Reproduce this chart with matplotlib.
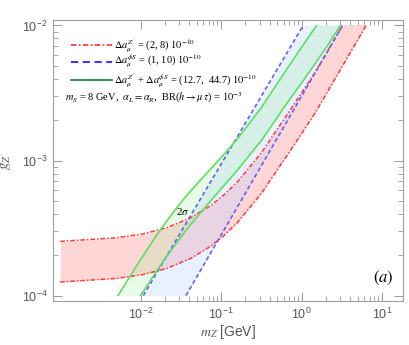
import matplotlib
matplotlib.use("Agg")
import matplotlib.pyplot as plt
from matplotlib.lines import Line2D
from matplotlib.patches import Rectangle
from matplotlib.ticker import FixedLocator, NullFormatter

plt.rcParams['font.family'] = ['Liberation Sans', 'DejaVu Sans']
plt.rcParams['mathtext.fontset'] = 'stix'

# red band: Delta a_mu^{Z'} = (2, 8) 1e-10
red_m = [1e-3, 5e-3, 0.0106, 0.0211, 0.0423, 0.074, 0.106, 0.159, 0.317, 0.7, 1.46, 6.66, 8.0]
red_lo = [1.26e-4, 1.34e-4, 1.43e-4, 1.59e-4, 1.89e-4, 2.32e-4, 2.75e-4, 3.47e-4,
          5.72e-4, 1.15e-3, 2.23e-3, 1.05e-2, 1.26e-2]
red_hi = [2.52e-4, 2.68e-4, 2.86e-4, 3.18e-4, 3.78e-4, 4.64e-4, 5.50e-4, 6.94e-4,
          1.144e-3, 2.30e-3, 4.46e-3, 2.10e-2, 2.52e-2]

# blue band: Delta a_mu^{phi S} = (1, 10) 1e-10  (g on the vertical axis)
blue_g = [1e-4, 1e-3, 1e-2]
blue_left = [0.01077, 0.1062, 1.047]
blue_right = [0.0365, 0.344, 3.23]

# green band: sum = (12.7, 44.7) 1e-10
green_m = [0.005, 0.0075, 0.01, 0.015, 0.02, 0.03, 0.04, 0.06, 0.08, 0.12, 0.16,
           0.24, 0.32, 0.48, 0.64, 1.0, 1.5, 2.2, 3.0, 4.0]
green_hi = [9.6e-5, 1.41e-4, 1.85e-4, 2.68e-4, 3.42e-4, 4.71e-4, 5.79e-4, 7.56e-4,
            9.1e-4, 1.19e-3, 1.45e-3, 1.99e-3, 2.49e-3, 3.6e-3, 4.65e-3, 6.9e-3,
            9.8e-3, 1.38e-2, 1.85e-2, 2.4e-2]
green_lo = [5.1e-5, 7.8e-5, 1.0e-4, 1.45e-4, 1.87e-4, 2.6e-4, 3.25e-4, 4.35e-4,
            5.3e-4, 7.0e-4, 8.5e-4, 1.15e-3, 1.42e-3, 2.02e-3, 2.6e-3, 3.75e-3,
            5.3e-3, 7.4e-3, 9.9e-3, 1.3e-2]

x_major = [1e-2, 1e-1, 1, 10]
y_major = [1e-4, 1e-3, 1e-2]

red_c = '#ff3b3b'
blue_c = '#6262f8'
green_c = '#5de05d'

fig = plt.figure(figsize=(4.09, 3.45), dpi=100)
ax = fig.add_axes([53 / 409, 1 - 301 / 345, 350 / 409, 281 / 345])
ax.set_xscale('log')
ax.set_yscale('log')

clip = Rectangle((1e-4, 1e-4), 1e3, 1e-2 - 1e-4, transform=ax.transData)

def clipped(artists):
    for a in artists:
        a.set_clip_path(clip)

# red
clipped([ax.fill_between(red_m, red_lo, red_hi, color='#ff9999', alpha=0.4, lw=0)])
clipped(ax.plot(red_m, red_lo, color=red_c, lw=1.1, dashes=(3, 1.3, 1, 1.3)))
clipped(ax.plot(red_m, red_hi, color=red_c, lw=1.1, dashes=(3, 1.3, 1, 1.3)))

# blue
clipped([ax.fill_betweenx(blue_g, blue_left, blue_right, color='#b3d1ff', alpha=0.3, lw=0)])
clipped(ax.plot(blue_left, blue_g, color=blue_c, lw=1.2, dashes=(2.5, 1.6)))
clipped(ax.plot(blue_right, blue_g, color=blue_c, lw=1.2, dashes=(2.5, 1.6)))

# green
clipped([ax.fill_between(green_m, green_lo, green_hi, color='#90f090', alpha=0.2, lw=0)])
clipped(ax.plot(green_m, green_hi, color=green_c, lw=1.2))
clipped(ax.plot(green_m, green_lo, color=green_c, lw=1.2))

ax.set_xlim(10 ** -3.09, 10 ** 1.26)
ax.set_ylim(10 ** -4.04, 10 ** -1.96)

# ticks
ax.xaxis.set_major_locator(FixedLocator(x_major))
ax.xaxis.set_minor_locator(FixedLocator([k * 10.0 ** e for e in (-2, -1, 0) for k in range(2, 10)]))
ax.yaxis.set_major_locator(FixedLocator(y_major))
ax.yaxis.set_minor_locator(FixedLocator([k * 10.0 ** e for e in (-4, -3) for k in range(2, 10)]))
ax.xaxis.set_minor_formatter(NullFormatter())
ax.yaxis.set_minor_formatter(NullFormatter())
ax.tick_params(which='both', direction='in', top=True, right=True,
               color='#999999', labelcolor='#555555', labelsize=9)
ax.tick_params(which='major', length=6.5, width=0.7, pad=4)
ax.tick_params(which='minor', length=3.5, width=0.6)
for s in ax.spines.values():
    s.set_color('#a0a0a0')
    s.set_linewidth(0.8)

ax.set_xlabel("$m_{Z'}$[GeV]", color='#555555', fontsize=10, labelpad=1)
ax.set_ylabel("$g_{Z'}$", color='#555555', fontsize=11, labelpad=6)

# legend drawn by hand
serif = ['Liberation Serif', 'DejaVu Serif']
leg = [
    (0.911, red_c, (3, 1.3, 1, 1.3), r"$\Delta a_\mu^{Z'}$ = (2, 8) $10^{-10}$"),
    (0.851, '#2222ff', (4, 2.5), r"$\Delta a_\mu^{\phi S}$ = (1, 10) $10^{-10}$"),
    (0.786, '#1f8f3f', None, r"$\Delta a_\mu^{Z'}$ + $\Delta a_\mu^{\phi S}$ = (12.7,  44.7) $10^{-10}$"),
]
for yf, c, d, lab in leg:
    ln = Line2D([0.051, 0.169], [yf, yf], transform=ax.transAxes, color=c, lw=1.3)
    if d is not None:
        ln.set_dashes(d)
    ax.add_line(ln)
    ax.text(0.175, yf, lab, transform=ax.transAxes, fontsize=7.5, family=serif,
            va='center', ha='left')
ax.text(0.034, 0.722, r"$m_S$ = 8 GeV,  $\alpha_L = \alpha_R$,  BR($h \to \mu\,\tau$) = $10^{-3}$",
        transform=ax.transAxes, fontsize=7.5, family=serif, va='center', ha='left')

ax.text(0.371, 0.320, r"2$\sigma$", transform=ax.transAxes, fontsize=8, family=serif,
        va='center', ha='center')
ax.text(0.943, 0.082, r"$(a)$", transform=ax.transAxes, fontsize=12, va='center', ha='center')

fig.savefig('out.png', dpi=100)
